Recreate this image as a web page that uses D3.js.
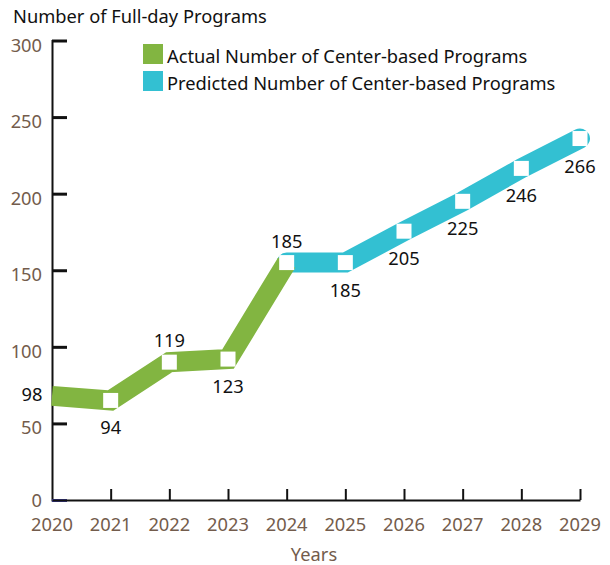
<!DOCTYPE html>
<html>
<head>
<meta charset="utf-8">
<script src="https://cdn.jsdelivr.net/npm/d3@7"></script>
<style>
  body { margin: 0; background: #fff; }
  text { font-family: "Noto Sans", sans-serif; }
</style>
</head>
<body>
<div id="chart"></div>
<script>
// values as plotted (the printed labels are kept separately)
const actualYears = [2020, 2021, 2022, 2023, 2024];
const actualValues = [68, 65, 90, 92, 155];
const actualLabels = ["98", "94", "119", "123", "185"];
const actualLabelSide = ["left", "below", "above", "below", "above"];

const predictedYears = [2024, 2025, 2026, 2027, 2028, 2029];
const predictedValues = [155, 155, 175.5, 195, 216.5, 236];
const predictedLabels = [null, "185", "205", "225", "246", "266"];
const predictedLabelSide = [null, "below", "below", "below", "below", "below"];

const yTicks = [0, 50, 100, 150, 200, 250, 300];
const xTicks = [2020, 2021, 2022, 2023, 2024, 2025, 2026, 2027, 2028, 2029];

const width = 610, height = 565;
const brown = "#735c4c";
const green = "#82b541";
const cyan = "#33c0d2";
const fs = "18.3px";

const svg = d3.select("#chart").append("svg")
  .attr("width", width)
  .attr("height", height);

const x = d3.scaleLinear().domain([2020, 2029]).range([52, 580]);
const y = d3.scaleLinear().domain([0, 300]).range([500, 40.5]);

// Title
svg.append("text")
  .attr("x", 13).attr("y", 23)
  .style("font-size", fs)
  .style("fill", "#111")
  .text("Number of Full-day Programs");

// Y axis
const yAxis = svg.append("g")
  .attr("transform", `translate(${x(2020)},0)`)
  .call(d3.axisRight(y).tickValues(yTicks).tickSize(15).tickFormat(""));
yAxis.select(".domain").attr("stroke", "#111").attr("stroke-width", 2);
yAxis.selectAll(".tick line").attr("stroke", d => d === 0 ? "#3c3c9c" : "#111").attr("stroke-width", 3);

// the 0 label sits a touch higher so it clears the 2020 label
svg.append("g").selectAll("text")
  .data(yTicks)
  .enter().append("text")
  .attr("x", 42)
  .attr("y", d => y(d) + (d === 0 ? 7 : 11))
  .attr("text-anchor", "end")
  .style("font-size", fs)
  .style("fill", brown)
  .text(d => d);

// X axis
const xAxis = svg.append("g")
  .attr("transform", `translate(0,${y(0)})`)
  .call(d3.axisTop(x).tickValues(xTicks).tickSize(11).tickFormat("").tickSizeOuter(0));
xAxis.select(".domain").attr("stroke", "#111").attr("stroke-width", 2);
xAxis.selectAll(".tick line").attr("stroke", "#111").attr("stroke-width", 2)
  .attr("display", d => d === 2020 ? "none" : null);

svg.append("g").selectAll("text")
  .data(xTicks)
  .enter().append("text")
  .attr("x", x)
  .attr("y", 531)
  .attr("text-anchor", "middle")
  .style("font-size", fs)
  .style("fill", brown)
  .text(d => d);

svg.append("text")
  .attr("x", 314).attr("y", 561)
  .attr("text-anchor", "middle")
  .style("font-size", fs)
  .style("fill", brown)
  .text("Years");

// Lines
const line = d3.line().x(d => x(d[0])).y(d => y(d[1]));

svg.append("path")
  .datum(predictedYears.map((d, i) => [d, predictedValues[i]]))
  .attr("d", line)
  .attr("fill", "none")
  .attr("stroke", cyan)
  .attr("stroke-width", 20)
  .attr("stroke-linecap", "round")
  .attr("stroke-linejoin", "miter");

svg.append("path")
  .datum(actualYears.map((d, i) => [d, actualValues[i]]))
  .attr("d", line)
  .attr("fill", "none")
  .attr("stroke", green)
  .attr("stroke-width", 20)
  .attr("stroke-linecap", "butt")
  .attr("stroke-linejoin", "miter");

// Markers
const markers = actualYears.slice(1, 4).map((d, i) => [d, actualValues[i + 1]])
  .concat(predictedYears.map((d, i) => [d, predictedValues[i]]));

svg.append("g").selectAll("rect")
  .data(markers)
  .enter().append("rect")
  .attr("x", d => x(d[0]) - 7.5)
  .attr("y", d => y(d[1]) - 7.5)
  .attr("width", 15)
  .attr("height", 15)
  .attr("fill", "#fff");

// Data labels
const labelData = actualYears.map((d, i) => ({ year: d, value: actualValues[i], label: actualLabels[i], side: actualLabelSide[i] }))
  .concat(predictedYears.map((d, i) => ({ year: d, value: predictedValues[i], label: predictedLabels[i], side: predictedLabelSide[i] })))
  .filter(d => d.label);

svg.append("g").selectAll("text")
  .data(labelData)
  .enter().append("text")
  .attr("x", d => d.side === "left" ? 32 : x(d.year))
  .attr("y", d => d.side === "below" ? y(d.value) + 34 : d.side === "above" ? y(d.value) - 15 : y(d.value) + 5)
  .attr("text-anchor", "middle")
  .style("font-size", fs)
  .style("fill", "#111")
  .text(d => d.label);

// Legend
const legendItems = [
  { color: green, text: "Actual Number of Center-based Programs" },
  { color: cyan, text: "Predicted Number of Center-based Programs" }
];
const legend = svg.append("g").selectAll("g")
  .data(legendItems)
  .enter().append("g")
  .attr("transform", (d, i) => `translate(143,${44 + i * 27})`);
legend.append("rect")
  .attr("width", 20).attr("height", 20)
  .attr("fill", d => d.color);
legend.append("text")
  .attr("x", 24).attr("y", 19)
  .style("font-size", fs)
  .style("fill", "#111")
  .text(d => d.text);
</script>
</body>
</html>
